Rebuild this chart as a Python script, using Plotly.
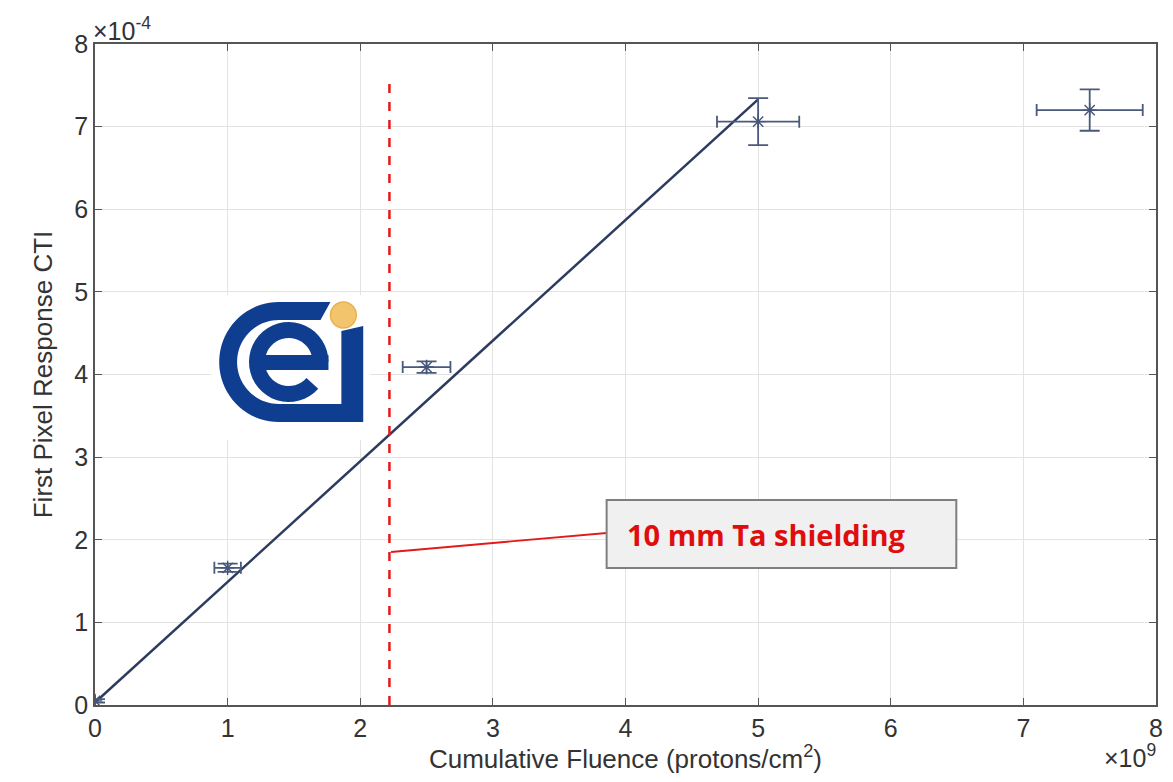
import numpy as np
import plotly.graph_objects as go

# ---------------- data ----------------
fluence = [0.0, 1.0, 2.5, 5.0, 7.5]            # x10^9 protons/cm^2
cti = [0.05, 1.66, 4.09, 7.06, 7.20]            # x10^-4
fluence_err = [0.0, 0.10, 0.18, 0.31, 0.40]
cti_err = [0.02, 0.05, 0.07, 0.285, 0.25]

fit_x = [0.0, 5.0]
fit_y = [0.03, 7.33]

shield_x = 2.22
shield_top = 7.57
shield_label = "10 mm Ta shielding"

x_ticks = [0, 1, 2, 3, 4, 5, 6, 7, 8]
y_ticks = [0, 1, 2, 3, 4, 5, 6, 7, 8]

# ---------------- layout geometry (page pixels) ----------------
OFF = 8                      # body margin of the html page (each side)
PW, PH = 1173, 782
W, H = PW - 2 * OFF, PH - 2 * OFF
L, R, T, B = 95, 1163, 44, 705


def px(p):
    return (p - L) / (R - L)


def py(p):
    return (B - p) / (B - T)


def path_from(points):
    s = "M " + " L ".join(f"{px(a):.5f},{py(b):.5f}" for a, b in points)
    return s + " Z"


def arc(cx, cy, r, a0, a1, n=40):
    t = np.radians(np.linspace(a0, a1, n))
    return [(cx + r * np.cos(v), cy - r * np.sin(v)) for v in t]


FONT = "Liberation Sans, Arial, sans-serif"
TXT = "#333333"

fig = go.Figure()

line_col = "#2d3b5e"
fig.add_trace(go.Scatter(
    x=fit_x, y=fit_y, mode="lines",
    line=dict(color=line_col, width=2.5), showlegend=False, hoverinfo="skip"))

fig.add_trace(go.Scatter(
    x=fluence, y=cti, mode="markers",
    marker=dict(symbol="asterisk-open", size=12, color="#44557a",
                line=dict(color="#44557a", width=1.4)),
    error_x=dict(type="data", array=fluence_err, color="#4a5a7c", thickness=1.8, width=6),
    error_y=dict(type="data", array=cti_err, color="#4a5a7c", thickness=1.8, width=10),
    showlegend=False))

shapes = []
shapes.append(dict(type="line", xref="x", yref="y", x0=shield_x, x1=shield_x,
                   y0=0, y1=shield_top, line=dict(color="#e31a1a", width=2.5, dash="dash"),
                   layer="above"))

# logo
shapes.append(dict(type="rect", xref="paper", yref="paper",
                   x0=px(212), x1=px(372), y0=py(440), y1=py(295),
                   fillcolor="white", line=dict(width=0), layer="above"))
blue = "#0f3d8f"
cx, cy, Ro, Ri = 280, 362, 60, 42
c_pts = [(332, 302), (280, 302)] + arc(cx, cy, Ro, 90, 270) + \
        [(280, 422), (365, 422), (365, 326), (343, 331), (343, 404), (280, 404)] + \
        arc(cx, cy, Ri, 270, 90) + [(280, 320), (322, 320)]
shapes.append(dict(type="path", xref="paper", yref="paper", path=path_from(c_pts),
                   fillcolor=blue, line=dict(width=0), layer="above"))
ex, ey, eR, er = 290, 362, 40, 24
e_pts = arc(ex, ey, eR, 0, 318) + arc(ex, ey, er, 318, 0)
shapes.append(dict(type="path", xref="paper", yref="paper", path=path_from(e_pts),
                   fillcolor=blue, line=dict(width=0), layer="above"))
bar_pts = [(ex - er - 1, 355), (ex + eR, 355), (ex + eR, 370), (ex - er - 1, 370)]
shapes.append(dict(type="path", xref="paper", yref="paper", path=path_from(bar_pts),
                   fillcolor=blue, line=dict(width=0), layer="above"))
shapes.append(dict(type="circle", xref="paper", yref="paper",
                   x0=px(332), x1=px(358), y0=py(328), y1=py(302),
                   fillcolor="#f2c46e", line=dict(color="#e9b24f", width=1.5), layer="above"))

# annotation box and pointer
shapes.append(dict(type="line", xref="paper", yref="paper",
                   x0=px(610), y0=py(533), x1=px(393), y1=py(552),
                   line=dict(color="#e31a1a", width=1.8), layer="above"))
shapes.append(dict(type="rect", xref="paper", yref="paper",
                   x0=px(610), x1=px(962), y0=py(568), y1=py(500),
                   fillcolor="#f0f0f0", line=dict(color="#7f7f7f", width=2), layer="above"))

annotations = [
    dict(x=px(628), y=py(534), xref="paper", yref="paper", xanchor="left", yanchor="middle",
         text=f"<b>{shield_label}</b>", showarrow=False,
         font=dict(family="Open Sans, Liberation Sans, sans-serif", size=29, color="#e00d0d")),
    dict(x=0, y=1, xref="paper", yref="paper", xanchor="left", yanchor="bottom",
         text="×10<sup>-4</sup>", showarrow=False, yshift=-3, xshift=-4,
         font=dict(family=FONT, size=25, color=TXT)),
    dict(x=1.0, y=0, xref="paper", yref="paper", xanchor="right", yanchor="bottom",
         text="×10<sup>9</sup>", showarrow=False, yshift=-(PH - B - OFF), xshift=2,
         font=dict(family=FONT, size=25, color=TXT)),
]

axis_common = dict(
    showgrid=True, gridcolor="#e3e3e3", gridwidth=1,
    showline=True, linecolor="#555555", linewidth=1.5, mirror="ticks",
    ticks="inside", ticklen=7, tickcolor="#555555", tickwidth=1.3,
    zeroline=False, ticklabeloverflow="allow",
    tickfont=dict(family=FONT, size=25, color=TXT),
)

fig.update_layout(
    width=W, height=H,
    margin=dict(l=L - OFF, r=PW - OFF - R, t=T - OFF, b=PH - OFF - B),
    paper_bgcolor="white", plot_bgcolor="white",
    shapes=shapes, annotations=annotations,
    xaxis=dict(range=[0, 8], tickvals=x_ticks, ticktext=[str(v) for v in x_ticks],
               title=dict(text="Cumulative Fluence (protons/cm<sup>2</sup>)", standoff=9,
                          font=dict(family=FONT, size=26, color=TXT)),
               **axis_common),
    yaxis=dict(range=[0, 8], tickvals=y_ticks, ticktext=[str(v) for v in y_ticks],
               title=dict(text="First Pixel Response CTI", standoff=14,
                          font=dict(family=FONT, size=26, color=TXT)),
               **axis_common),
)

fig.write_html("out.html")
